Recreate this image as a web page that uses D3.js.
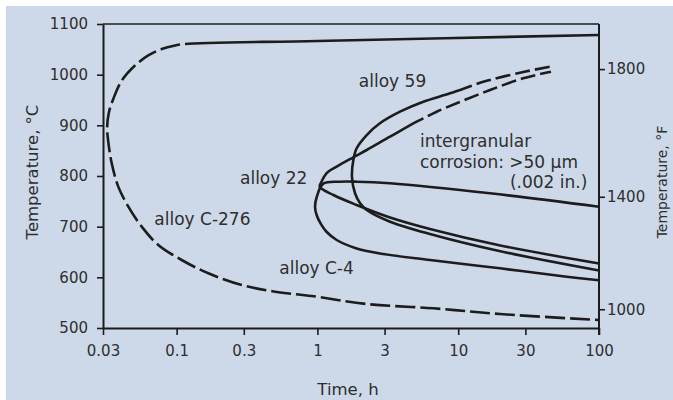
<!DOCTYPE html>
<html>
<head>
<meta charset="utf-8">
<script src="https://cdn.jsdelivr.net/npm/d3@7"></script>
<style>
  html, body { margin: 0; padding: 0; background: #ffffff; }
  svg { display: block; }
  text { font-family: "DejaVu Sans", sans-serif; fill: #2e2e2e; }
</style>
</head>
<body>
<svg id="chart" width="673" height="400"></svg>
<script>
// ---- data -------------------------------------------------------------
const timeTicks = [0.03, 0.1, 0.3, 1, 3, 10, 30, 100];
const timeTickLabels = ["0.03", "0.1", "0.3", "1", "3", "10", "30", "100"];
const celsiusTicks = [500, 600, 700, 800, 900, 1000, 1100];
const fahrenheitTicks = [1000, 1400, 1800];
// °C level at which each °F tick sits on the right-hand scale
const fahrenheitTickC = [537, 759, 1011];

// curves as [time (h), temperature (°C)]
// alloy C-276: solid top line, then dashed around the nose to the lower end
const c276Solid = [[100, 1078.3], [1, 1066.5], [0.1147, 1060.5]];
const c276Dashed = [
  [0.1147, 1060.5], [0.0975, 1057.5], [0.0784, 1050.5], [0.0629, 1038],
  [0.0506, 1018], [0.0407, 988], [0.0355, 952], [0.0330, 925],
  [0.0321, 895], [0.0327, 868], [0.0346, 825], [0.0385, 779],
  [0.0454, 739.4], [0.0565, 700], [0.0741, 663.8], [0.1086, 634.2],
  [0.168, 608], [0.29, 584.9], [0.5, 571.7], [0.91, 563.2],
  [2.24, 547.4], [6.65, 538.9], [19.8, 527.6], [100, 515.8]
];

// alloy 59 (lower branch crosses below alloy 22 after the nose)
const alloy59Solid = [
  [100, 613.5], [19.2, 652.4], [6.3, 685.5], [3.28, 709.8],
  [2.24, 732.9], [2.01, 746.1], [1.85, 765.9], [1.76, 798], [1.80, 831.6],
  [1.90, 854.7], [2.24, 880.9], [2.78, 904.0], [3.86, 926.9], [5.65, 946.6],
  [8.74, 963.2], [12.47, 978.2]
];
const alloy59Dashed = [[12.47, 978.2], [15.07, 986.1], [27.47, 1003.9], [44.9, 1015.7]];

// alloy 22
const alloy22Solid = [
  [100, 627.3], [19.2, 663.8], [6.3, 695.4], [3.28, 718.1],
  [1.90, 742.8], [1.30, 762.5], [1.04, 778.9],
  [1.07, 788.8], [1.16, 805.3], [1.37, 818.4], [1.80, 836.9], [2.24, 851.3],
  [3.28, 877.6], [5.07, 907.2], [5.65, 913.7]
];
const alloy22Dashed = [[5.65, 913.7], [7.03, 926.9], [9.75, 943.5], [16.82, 969.7], [28.98, 992.8], [45.6, 1005.9]];

// alloy C-4
const alloyC4 = [
  [100, 739.4], [16.8, 765.9], [3.28, 785.6], [1.90, 788.8], [1.45, 788.8],
  [1.10, 785], [0.99, 759], [0.962, 739], [0.99, 722], [1.06, 705],
  [1.16, 690], [1.37, 673.7], [1.90, 657], [2.94, 646], [6.3, 634.2],
  [19.8, 617.8], [58.96, 601.3], [100, 594.1]
];

// annotation text, anchored at [time, °C] (left edge, baseline)
const annotText = ["alloy 59", "intergranular", "corrosion: >50 µm", "(.002 in.)", "alloy 22", "alloy C-276", "alloy C-4"];
const annotTime = [1.97, 5.35, 5.35, 23.3, 0.282, 0.0694, 0.536];
const annotTemp = [975.7, 856.6, 815.2, 775.7, 784.2, 703.3, 606.6];

// ---- layout -----------------------------------------------------------
const svg = d3.select("#chart");
const W = 673, H = 400;
const plot = { left: 103, right: 599, top: 24, bottom: 328 };
const ink = "#1c1c1c";

svg.append("rect").attr("x", 6).attr("y", 6).attr("width", W - 6).attr("height", H - 6)
  .attr("fill", "#cdd9e8");

const x = d3.scaleLog().domain([0.03, 100]).range([plot.left, plot.right]);
const y = d3.scaleLinear().domain([500, 1100]).range([plot.bottom, plot.top]);
const yF = d3.scaleLinear().domain(fahrenheitTicks).range(fahrenheitTickC.map(y));

// frame: top line
svg.append("line")
  .attr("x1", plot.left).attr("x2", plot.right)
  .attr("y1", plot.top).attr("y2", plot.top)
  .attr("stroke", ink).attr("stroke-width", 1.6);

function styleAxis(g) {
  g.selectAll(".domain").attr("stroke", ink).attr("stroke-width", 2);
  g.selectAll(".tick line").attr("stroke", ink).attr("stroke-width", 1.6);
  g.selectAll(".tick text").attr("fill", "#2e2e2e")
    .style("font-family", "'DejaVu Sans', sans-serif").style("font-size", "15px");
}

svg.append("g").attr("transform", `translate(${plot.left},0)`)
  .call(d3.axisLeft(y).tickValues(celsiusTicks).tickSize(6).tickSizeOuter(0).tickPadding(9)
    .tickFormat(d3.format("d")))
  .call(styleAxis);

svg.append("g").attr("transform", `translate(0,${plot.bottom})`)
  .call(d3.axisBottom(x).tickValues(timeTicks).tickSize(7).tickSizeOuter(0).tickPadding(10)
    .tickFormat((d, i) => timeTickLabels[i]))
  .call(styleAxis);

svg.append("g").attr("transform", `translate(${plot.right},0)`)
  .call(d3.axisRight(yF).tickValues(fahrenheitTicks).tickSize(6).tickSizeOuter(0).tickPadding(2)
    .tickFormat(d3.format("d")))
  .call(g => g.select(".domain").remove())
  .call(styleAxis);
svg.append("line")
  .attr("x1", plot.right).attr("x2", plot.right)
  .attr("y1", plot.top).attr("y2", plot.bottom + 7)
  .attr("stroke", ink).attr("stroke-width", 2);

// ---- curves -----------------------------------------------------------
const line = d3.line()
  .x(d => x(d[0])).y(d => y(d[1]))
  .curve(d3.curveCatmullRom.alpha(0.5));

const curveLayer = svg.append("g");

// solid part first, then the dashed continuation along one smooth path
function drawCurve(solid, dashed, dash, gap) {
  const pts = dashed ? solid.concat(dashed.slice(1)) : solid;
  const path = curveLayer.append("path")
    .attr("d", line(pts))
    .attr("fill", "none").attr("stroke", ink)
    .attr("stroke-width", 2.6).attr("stroke-linecap", "butt");
  if (dashed) {
    const probe = curveLayer.append("path").attr("d", line(solid));
    const s = probe.node().getTotalLength();
    probe.remove();
    const L = path.node().getTotalLength();
    const arr = [s, gap];
    let acc = s + gap;
    while (acc < L + dash) { arr.push(dash, gap); acc += dash + gap; }
    path.attr("stroke-dasharray", arr.join(","));
  }
}

drawCurve(c276Solid, c276Dashed, 20, 5);
drawCurve(alloy59Solid, alloy59Dashed, 15, 5);
drawCurve(alloy22Solid, alloy22Dashed, 15, 5);
drawCurve(alloyC4, null);

// ---- labels -----------------------------------------------------------
svg.append("g").selectAll("text").data(annotText).join("text")
  .attr("x", (d, i) => x(annotTime[i])).attr("y", (d, i) => y(annotTemp[i]))
  .style("font-size", "17px")
  .text(d => d);

// axis titles
svg.append("text")
  .attr("x", (plot.left + plot.right) / 2 - 3).attr("y", 395)
  .attr("text-anchor", "middle").style("font-size", "16.5px")
  .text("Time, h");
svg.append("text")
  .attr("transform", `translate(38,${(plot.top + plot.bottom) / 2 - 4}) rotate(-90)`)
  .attr("text-anchor", "middle").style("font-size", "16.5px")
  .text("Temperature, °C");
svg.append("text")
  .attr("transform", `translate(667,${(plot.top + plot.bottom) / 2 + 6}) rotate(-90)`)
  .attr("text-anchor", "middle").style("font-size", "14px")
  .text("Temperature, °F");
</script>
</body>
</html>
